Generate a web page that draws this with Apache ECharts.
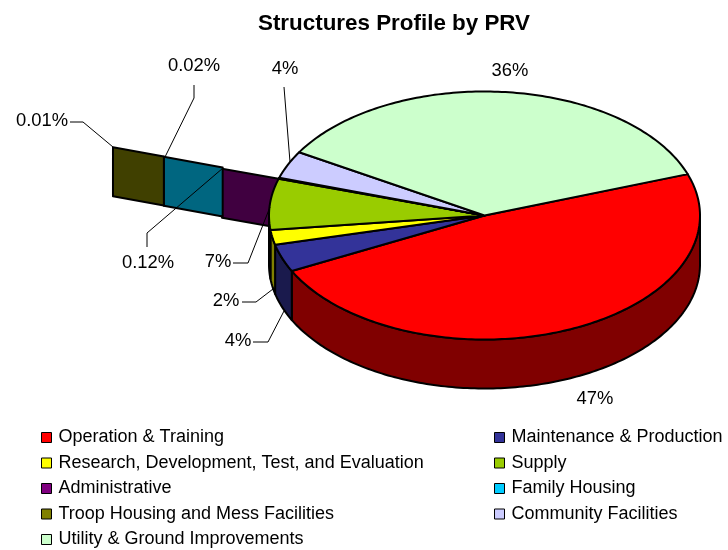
<!DOCTYPE html>
<html lang="en">
<head>
    <meta charset="UTF-8">
    <title>Structures Profile by PRV</title>
    <script src="https://cdn.jsdelivr.net/npm/echarts@6/dist/echarts.min.js"></script>
    <style>html, body { margin: 0; background: #fff; }</style>
</head>
<body>
<div id="main" style="width: 728px; height: 550px"></div>
<script type="text/javascript">
    var categories = ['Operation & Training', 'Maintenance & Production', 'Research, Development, Test, and Evaluation', 'Supply',
        'Administrative', 'Family Housing', 'Troop Housing and Mess Facilities', 'Community Facilities', 'Utility & Ground Improvements'];
    var values = [47.49, 3.55, 1.92, 6.56, 0.12, 0.02, 0.01, 3.55, 35.65];
    var colors = ['#FF0000', '#333399', '#FFFF00', '#99CC00', '#800080', '#00CCFF', '#808000', '#CCCCFF', '#CCFFCC'];
    var sideColors = ['#800000', '#1A1A4D', '#808000', '#4D6600', '#400040', '#006680', '#404000', '#666680', '#668066'];

    // pie drawing geometry
    var cx = 484.5, cy = 215.5, rx = 215.5, ry = 124, depth = 49, startAngle = -19.5;
    // how far the three tiny slices run out of the pie, in pie radii
    var tailReach = {4: [1, 1.275], 5: [1.275, 1.562], 6: [1.562, 1.81]};
    // label positions and leader lines
    var labelPos = [[595, 399], [238, 341], [226, 301], [218, 262], [148, 263], [194, 66], [42, 121], [285, 69], [510, 71]];
    var leaders = {
        1: [[253, 342], [268, 342], [284, 311]],
        2: [[242, 302], [256, 302], [273, 289]],
        3: [[233, 263], [248, 263], [270, 207]],
        4: [[147, 247], [147, 233], [223, 168]],
        5: [[194, 85], [194, 98], [165, 157]],
        6: [[70, 122], [83, 122], [113, 147]],
        7: [[284, 87], [290, 162]]
    };

    var total = values.reduce(function (a, b) { return a + b; }, 0);
    function sliceRange(i) {
        var before = 0;
        for (var k = 0; k < i; k++) before += values[k];
        var a0 = startAngle + before / total * 360;
        return [a0, a0 + values[i] / total * 360];
    }
    function pt(deg, r, dy) {
        var t = deg * Math.PI / 180;
        return [cx + r * rx * Math.cos(t), cy + r * ry * Math.sin(t) + (dy || 0)];
    }
    function arc(a0, a1, dy) {
        var pts = [];
        var n = Math.max(1, Math.ceil(Math.abs(a1 - a0)));
        for (var k = 0; k <= n; k++) pts.push(pt(a0 + (a1 - a0) * k / n, 1, dy));
        return pts;
    }
    function labelText(v) {
        return (v < 1 ? v.toFixed(2) : Math.round(v)) + '%';
    }
    var edge = {stroke: '#000', lineWidth: 2, lineJoin: 'round'};

    var series = [];
    // tail of the tiny slices, behind the pie
    series.push({
        type: 'custom', coordinateSystem: 'none', silent: true, z: 1,
        data: [4, 5, 6],
        renderItem: function (params, api) {
            var i = api.value(0);
            var a = sliceRange(i)[0];
            var r = tailReach[i];
            return {
                type: 'polygon',
                shape: {points: [pt(a, r[0]), pt(a, r[1]), pt(a, r[1], depth), pt(a, r[0], depth)]},
                style: Object.assign({fill: sideColors[i]}, edge)
            };
        }
    });
    // side wall of the front half
    series.push({
        type: 'custom', coordinateSystem: 'none', silent: true, z: 2,
        data: values.map(function (v, i) { return i; }),
        renderItem: function (params, api) {
            var i = api.value(0);
            var r = sliceRange(i);
            var a0 = Math.max(r[0], 0), a1 = Math.min(r[1], 180);
            if (a1 <= a0) return null;
            return {
                type: 'polygon',
                shape: {points: arc(a0, a1, 0).concat(arc(a1, a0, depth))},
                style: Object.assign({fill: sideColors[i]}, edge)
            };
        }
    });
    // top faces, one named series per slice so the legends can pick them up
    categories.forEach(function (name, i) {
        series.push({
            type: 'custom', name: name, coordinateSystem: 'none', silent: true, z: 3,
            itemStyle: {color: colors[i]},
            data: [values[i]],
            renderItem: function () {
                var r = sliceRange(i);
                return {
                    type: 'polygon',
                    shape: {points: [[cx, cy]].concat(arc(r[0], r[1], 0))},
                    style: Object.assign({fill: colors[i]}, edge)
                };
            }
        });
    });
    // value labels and leader lines
    series.push({
        type: 'custom', coordinateSystem: 'none', silent: true, z: 4,
        data: values.map(function (v, i) { return i; }),
        renderItem: function (params, api) {
            var i = api.value(0);
            var children = [{
                type: 'text',
                style: {
                    x: labelPos[i][0], y: labelPos[i][1], text: labelText(values[i]),
                    fill: '#000', font: '18.4px "Liberation Sans", Arial, sans-serif',
                    align: 'center', verticalAlign: 'middle'
                }
            }];
            if (leaders[i]) {
                children.push({
                    type: 'polyline',
                    shape: {points: leaders[i]},
                    style: {stroke: '#000', lineWidth: 1, fill: null}
                });
            }
            return {type: 'group', children: children};
        }
    });

    var legendBase = {
        orient: 'vertical', top: 428.5, height: 121, padding: 0, itemWidth: 10, itemHeight: 10, itemGap: 7.5,
        selectedMode: false, icon: 'rect',
        itemStyle: {borderColor: '#000', borderWidth: 1},
        textStyle: {color: '#000', fontFamily: '"Liberation Sans", Arial, sans-serif', fontSize: 18, lineHeight: 18, padding: [0, 0, 0, 2]}
    };

    var myChart = echarts.init(document.getElementById('main'), null, {renderer: 'canvas'});
    var option = {
        animation: false,
        backgroundColor: '#fff',
        title: {
            text: 'Structures Profile by PRV',
            left: 389, top: 8, textAlign: 'center',
            textStyle: {color: '#000', fontFamily: '"Liberation Sans", Arial, sans-serif', fontSize: 22.4, fontWeight: 'bold'}
        },
        legend: [
            Object.assign({left: 41, data: categories.filter(function (c, i) { return i % 2 === 0; })}, legendBase),
            Object.assign({left: 494, data: categories.filter(function (c, i) { return i % 2 === 1; })}, legendBase)
        ],
        series: series
    };
    myChart.setOption(option);
</script>
</body>
</html>
